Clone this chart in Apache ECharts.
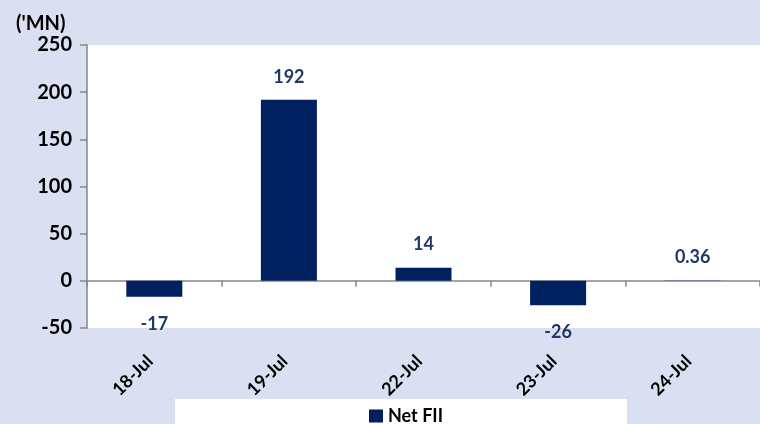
<!DOCTYPE html>
<html>
<head>
<meta charset="utf-8">
<script src="https://cdn.jsdelivr.net/npm/echarts@6/dist/echarts.min.js"></script>
<style>
  html, body { margin: 0; padding: 0; background: #dae0f2; }
  #main { width: 760px; height: 424px; }
</style>
</head>
<body>
<div id="main"></div>
<script>
var categories = ['18-Jul', '19-Jul', '22-Jul', '23-Jul', '24-Jul'];
var netFII = [-17, 192, 14, -26, 0.36];
var yTicks = { min: -50, max: 250, interval: 50 };

var font = 'Lato, "Open Sans", sans-serif';
var chart = echarts.init(document.getElementById('main'));

var option = {
  backgroundColor: '#dae0f2',
  animation: false,
  title: {
    text: "('MN)",
    left: 11,
    top: 9,
    textStyle: { fontFamily: font, fontSize: 20, fontWeight: 'bold', color: '#000' }
  },
  graphic: [{
    type: 'rect',
    left: 175,
    top: 399,
    shape: { width: 452, height: 25 },
    style: { fill: '#fff' },
    z: -1
  }],
  legend: {
    data: ['Net FII'],
    left: 364,
    top: 402,
    itemWidth: 14,
    itemHeight: 13,
    itemGap: 4,
    icon: 'rect',
    textStyle: { fontFamily: font, fontSize: 18, fontWeight: 'bold', color: '#000' }
  },
  grid: {
    left: 87,
    right: 0,
    top: 45,
    bottom: 96,
    show: true,
    backgroundColor: '#fff',
    borderWidth: 0
  },
  xAxis: {
    type: 'category',
    data: categories,
    axisLine: { onZero: true, lineStyle: { color: '#868686', width: 1.5 } },
    axisTick: { show: true, length: 6, lineStyle: { color: '#868686', width: 1.5 } },
    axisLabel: {
      rotate: 45,
      margin: 26,
      padding: [0, 6, 0, 0],
      interval: 0,
      fontFamily: font,
      fontSize: 18,
      fontWeight: 'bold',
      color: '#000'
    }
  },
  yAxis: {
    type: 'value',
    min: yTicks.min,
    max: yTicks.max,
    interval: yTicks.interval,
    splitLine: { show: false },
    axisLine: { show: true, onZero: false, lineStyle: { color: '#868686', width: 1.5 } },
    axisTick: { show: true, length: 7, lineStyle: { color: '#868686', width: 1.5 } },
    axisLabel: {
      margin: 15,
      fontFamily: font,
      fontSize: 20,
      fontWeight: 'bold',
      color: '#000'
    }
  },
  series: [{
    name: 'Net FII',
    type: 'bar',
    barWidth: 56,
    itemStyle: { color: '#002060' },
    data: netFII.map(function (v) {
      return {
        value: v,
        label: { position: v < 0 ? 'bottom' : 'top', distance: v < 0 ? 18 : 14 }
      };
    }),
    label: {
      show: true,
      fontFamily: font,
      fontSize: 18,
      fontWeight: 'bold',
      color: '#1f3864',
      formatter: function (p) { return String(p.value); }
    }
  }]
};

chart.setOption(option);
</script>
</body>
</html>
